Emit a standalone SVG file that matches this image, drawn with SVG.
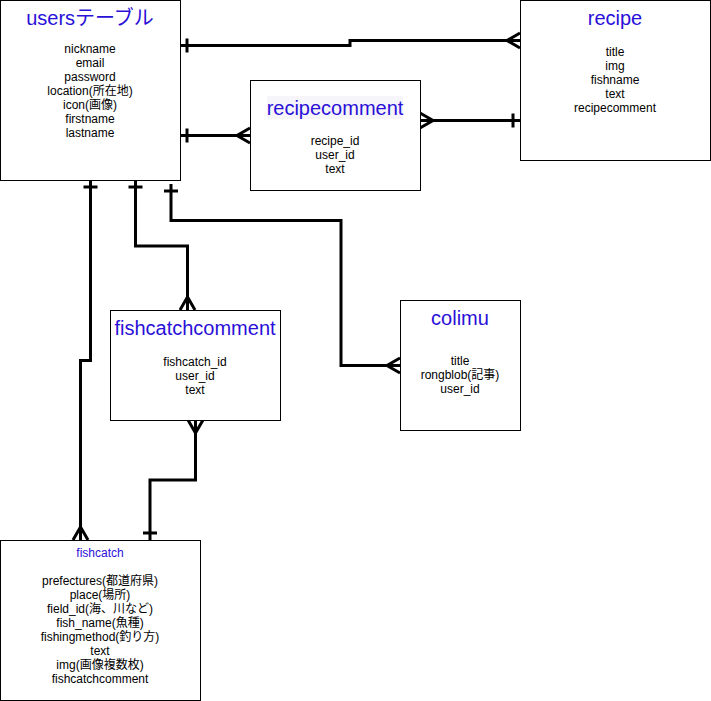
<svg xmlns="http://www.w3.org/2000/svg" width="711" height="701" viewBox="0 0 711 701">
<style>
.box{fill:#fff;stroke:#000;stroke-width:1}
text{font-family:"Liberation Sans","Noto Sans CJK JP",Arial,sans-serif;text-anchor:middle;fill:#000}
.t{font-size:20px;fill:#2a10d8}
.ts{font-size:12px;fill:#2a10d8}
.b{font-size:12px}
.edge{fill:none;stroke:#000;stroke-width:3}
.mk{fill:none;stroke:#000;stroke-width:3}
</style>
<defs>
<marker id="one" markerUnits="userSpaceOnUse" orient="auto-start-reverse" refX="0" refY="0" markerWidth="1" markerHeight="1" style="overflow:visible">
<path class="mk" d="M-7,-7V7"/>
</marker>
<marker id="many" markerUnits="userSpaceOnUse" orient="auto-start-reverse" refX="0" refY="0" markerWidth="1" markerHeight="1" style="overflow:visible">
<path class="mk" d="M0,-7.5L-13,0L0,7.5"/>
</marker>
</defs>
<rect width="711" height="701" fill="#fff"/>
<g id="connectors">
<path class="edge" d="M180,45.5H350V40.5H520" marker-start="url(#one)" marker-end="url(#many)"/>
<path class="edge" d="M180,135.5H250" marker-start="url(#one)" marker-end="url(#many)"/>
<path class="edge" d="M420,120.5H520" marker-start="url(#many)" marker-end="url(#one)"/>
<path class="edge" d="M90.5,180V360.5H80.5V540" marker-start="url(#one)" marker-end="url(#many)"/>
<path class="edge" d="M135.5,180V246H187.5V310" marker-start="url(#one)" marker-end="url(#many)"/>
<path class="edge" d="M171,184V220.5H341V365.5H400" marker-start="url(#one)" marker-end="url(#many)"/>
<path class="edge" d="M195.5,420V480H150V540" marker-start="url(#many)" marker-end="url(#one)"/>
</g>
<g id="users">
<rect class="box" x="0.5" y="0.5" width="180" height="180"/>
<text class="t" x="90" y="25">usersテーブル</text>
<text class="b" x="90" y="53">nickname</text>
<text class="b" x="90" y="67">email</text>
<text class="b" x="90" y="81">password</text>
<text class="b" x="90" y="95">location(所在地)</text>
<text class="b" x="90" y="109">icon(画像)</text>
<text class="b" x="90" y="123">firstname</text>
<text class="b" x="90" y="137">lastname</text>
</g>
<g id="recipe">
<rect class="box" x="520.5" y="0.5" width="190" height="160"/>
<text class="t" x="615" y="25">recipe</text>
<text class="b" x="615" y="56">title</text>
<text class="b" x="615" y="70">img</text>
<text class="b" x="615" y="84">fishname</text>
<text class="b" x="615" y="98">text</text>
<text class="b" x="615" y="112">recipecomment</text>
</g>
<g id="recipecomment">
<rect class="box" x="250.5" y="80.5" width="170" height="110"/>
<rect x="267" y="96" width="136" height="23" fill="#f6f6fa"/>
<text class="t" x="335" y="115">recipecomment</text>
<text class="b" x="335" y="145">recipe_id</text>
<text class="b" x="335" y="159">user_id</text>
<text class="b" x="335" y="173">text</text>
</g>
<g id="fishcatchcomment">
<rect class="box" x="110.5" y="310.5" width="170" height="110"/>
<text class="t" x="195" y="335">fishcatchcomment</text>
<text class="b" x="195" y="366">fishcatch_id</text>
<text class="b" x="195" y="380">user_id</text>
<text class="b" x="195" y="394">text</text>
</g>
<g id="colimu">
<rect class="box" x="400.5" y="300.5" width="120" height="130"/>
<text class="t" x="460" y="325">colimu</text>
<text class="b" x="460" y="365">title</text>
<text class="b" x="460" y="379">rongblob(記事)</text>
<text class="b" x="460" y="393">user_id</text>
</g>
<g id="fishcatch">
<rect class="box" x="0.5" y="540.5" width="200" height="160"/>
<text class="ts" x="100" y="557">fishcatch</text>
<text class="b" x="100" y="585">prefectures(都道府県)</text>
<text class="b" x="100" y="599">place(場所)</text>
<text class="b" x="100" y="613">field_id(海、川など)</text>
<text class="b" x="100" y="627">fish_name(魚種)</text>
<text class="b" x="100" y="641">fishingmethod(釣り方)</text>
<text class="b" x="100" y="655">text</text>
<text class="b" x="100" y="669">img(画像複数枚)</text>
<text class="b" x="100" y="683">fishcatchcomment</text>
</g>
</svg>
